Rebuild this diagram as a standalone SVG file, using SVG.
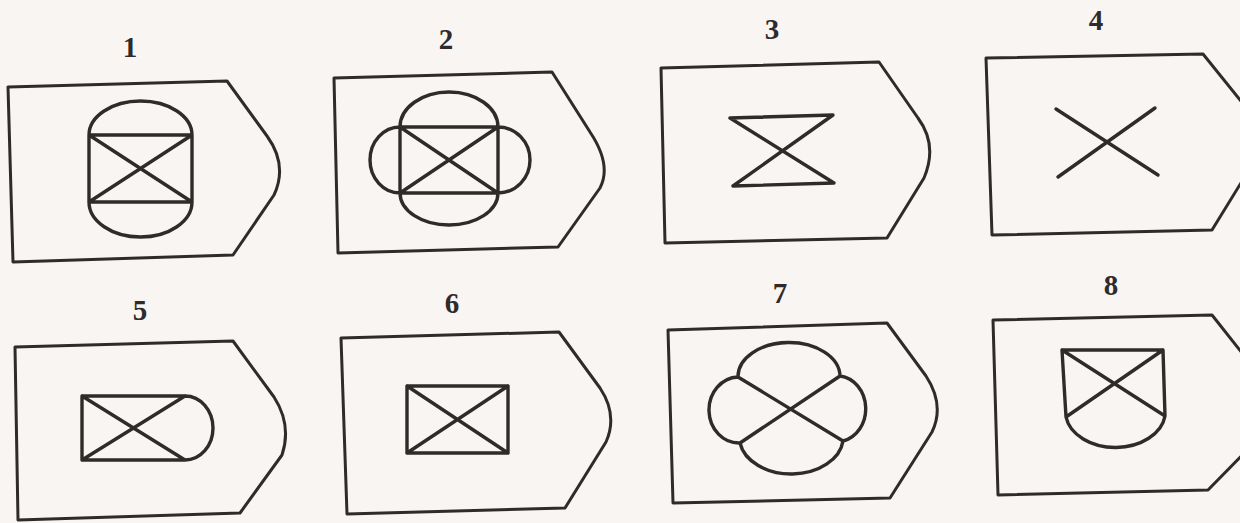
<svg xmlns="http://www.w3.org/2000/svg" width="1240" height="523" viewBox="0 0 1240 523">
<style>
.bg{fill:#f8f5f3}
.b{fill:none;stroke:#2f2b2b;stroke-width:3;stroke-linejoin:round}
.s{fill:none;stroke:#2f2b2b;stroke-width:3.4;stroke-linejoin:round;stroke-linecap:round}
.t{font-family:"Liberation Serif",serif;font-weight:bold;font-size:29px;fill:#2f2b2b;text-anchor:middle}
</style>
<rect class="bg" x="0" y="0" width="1240" height="523"/>
<g id="node1">
<text class="t" x="130" y="57">1</text>
<path class="b" d="M 8 87 L 227 81 L 267 136 Q 288 165 274 195 L 233 255 L 13 262 Z"/>
<path class="s" d="M 89 135 L 192 135 L 192 202 L 89 202 Z M 89 135 A 51.5 34 0 0 1 192 135 M 89 202 A 51.5 35 0 0 0 192 202 M 89 135 L 192 202 M 192 135 L 89 202"/>
</g>
<g id="node2">
<text class="t" x="446" y="49">2</text>
<path class="b" d="M 334 78 L 552 72 L 590 132 Q 612 165 600 188 L 558 247 L 338 253 Z"/>
<path class="s" d="M 400 127 L 498 127 L 498 193 L 400 193 Z M 400 127 A 49 35 0 0 1 498 127 M 400 193 A 49 32 0 0 0 498 193 M 400 127 A 30 33 0 0 0 400 193 M 498 127 A 32 33 0 0 1 498 193 M 400 127 L 498 193 M 498 127 L 400 193"/>
</g>
<g id="node3">
<text class="t" x="772" y="39">3</text>
<path class="b" d="M 661 68 L 879 62 L 918 118 Q 938 145 924 178 L 887 238 L 665 243 Z"/>
<path class="s" d="M 730 118 L 833 115 L 733 186 L 834 183 Z"/>
</g>
<g id="node4">
<text class="t" x="1096" y="30">4</text>
<path class="b" d="M 986 58 L 1203 54 L 1245 106 Q 1268 140 1252 165 L 1212 230 L 992 235 Z"/>
<path class="s" d="M 1056 109 L 1158 175 M 1155 108 L 1058 177"/>
</g>
<g id="node5">
<text class="t" x="140" y="320">5</text>
<path class="b" d="M 15 347 L 233 341 L 274 397 Q 292 425 282 455 L 240 513 L 18 520 Z"/>
<path class="s" d="M 185 396 L 82 396 L 82 460 L 185 460 A 28 32 0 0 0 185 396 M 82 396 L 185 460 M 185 396 L 82 460"/>
</g>
<g id="node6">
<text class="t" x="452" y="313">6</text>
<path class="b" d="M 341 338 L 559 332 L 600 388 Q 618 415 606 442 L 565 508 L 347 514 Z"/>
<path class="s" d="M 407 386 L 508 386 L 508 453 L 407 453 Z M 407 386 L 508 453 M 508 386 L 407 453"/>
</g>
<g id="node7">
<text class="t" x="780" y="303">7</text>
<path class="b" d="M 668 330 L 887 323 L 926 376 Q 945 405 932 432 L 890 498 L 673 503 Z"/>
<path class="s" d="M 738 377 A 51 34 0 0 1 840 376 A 29 33 0 0 1 843 441 A 52 37 0 0 1 740 443 A 30 33 0 0 1 738 377 Z M 738 377 L 843 441 M 840 376 L 740 443"/>
</g>
<g id="node8">
<text class="t" x="1111" y="295">8</text>
<path class="b" d="M 993 320 L 1212 315 L 1250 363 Q 1270 395 1256 441 L 1208 490 L 998 495 Z"/>
<path class="s" d="M 1062 350 L 1163 350 L 1165 416 A 50 36 0 0 1 1066 417 Z M 1062 350 L 1165 416 M 1163 350 L 1066 417"/>
</g>
<g id="connectors"></g>
</svg>
